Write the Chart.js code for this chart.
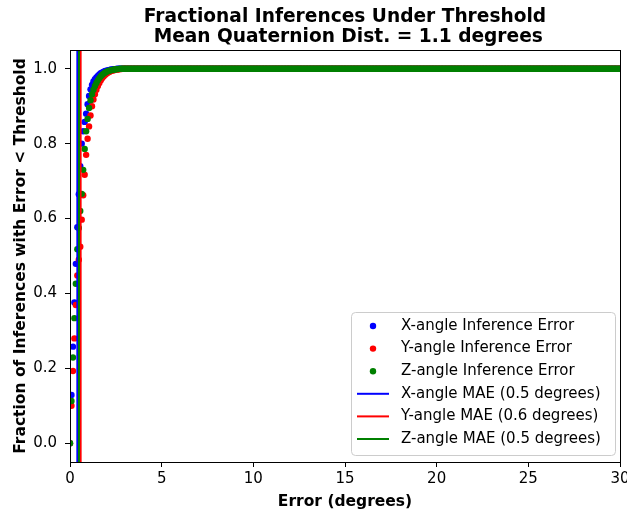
<!DOCTYPE html>
<html>
<head>
<meta charset="utf-8">
<script src="https://cdn.jsdelivr.net/npm/chart.js@4.4.0/dist/chart.umd.min.js"></script>
<style>
    html, body { margin: 0; padding: 0; background: #ffffff; }
</style>
</head>
<body>
<canvas id="cdf_chart" width="627" height="512"></canvas>
<script>
// Thresholds are spaced evenly from 0 to 30 degrees
var thresholdStep = 0.08;
var thresholdMax = 30;

var xAngleFraction = [0, 0.129, 0.258, 0.376, 0.479, 0.577, 0.665, 0.740, 0.800, 0.833,
    0.858, 0.880, 0.905, 0.927, 0.945, 0.957, 0.966, 0.972, 0.977, 0.981,
    0.985, 0.988, 0.990, 0.992, 0.994, 0.995, 0.996, 0.997, 0.998, 0.998,
    0.999, 0.999];
var yAngleFraction = [0, 0.100, 0.193, 0.280, 0.369, 0.448, 0.490, 0.525, 0.597, 0.662,
    0.717, 0.770, 0.813, 0.846, 0.875, 0.900, 0.918, 0.932, 0.944, 0.954,
    0.962, 0.969, 0.975, 0.980, 0.984, 0.987, 0.990, 0.992, 0.994, 0.995,
    0.996, 0.997, 0.998, 0.998, 0.999, 0.999];
var zAngleFraction = [0, 0.113, 0.229, 0.334, 0.426, 0.518, 0.575, 0.620, 0.666, 0.730,
    0.786, 0.833, 0.866, 0.895, 0.916, 0.932, 0.944, 0.954, 0.962, 0.969,
    0.975, 0.980, 0.984, 0.987, 0.990, 0.992, 0.994, 0.995, 0.996, 0.997,
    0.998, 0.998, 0.999, 0.999];

// Mean absolute error of each angle (where the vertical lines sit) and the text in the legend
var maeValues = [0.40, 0.58, 0.49];
var maeLabels = ["0.5", "0.6", "0.5"];

var xTicks = [0, 5, 10, 15, 20, 25, 30];
var yTicks = [0, 0.2, 0.4, 0.6, 0.8, 1.0];

var seriesNames = ["X-angle", "Y-angle", "Z-angle"];
var seriesColors = ["#0000ff", "#ff0000", "#008000"];
var seriesFractions = [xAngleFraction, yAngleFraction, zAngleFraction];

var titleLines = ["Fractional Inferences Under Threshold", " Mean Quaternion Dist. = 1.1 degrees"];
var xAxisTitle = "Error (degrees)";
var yAxisTitle = "Fraction of Inferences with Error < Threshold";

/**
 * Pairs each threshold with the fraction read for it
 */
function BuildPoints(fractions)
{
    var points = [];
    var count = Math.round(thresholdMax / thresholdStep);
    for (var i = 0; i <= count; i++)
    {
        var x = Math.round(i * thresholdStep * 1000) / 1000;
        points.push({x: x, y: i < fractions.length ? fractions[i] : 1.0});
    }
    return points;
}

var datasets = [];

// Dots first (drawn underneath), higher order = drawn earlier
seriesNames.forEach(function (name, k)
{
    datasets.push({
        type: 'scatter',
        label: `${name} Inference Error`,
        data: BuildPoints(seriesFractions[k]),
        backgroundColor: seriesColors[k],
        borderWidth: 0,
        pointRadius: 3.2,
        pointHoverRadius: 3.2,
        showLine: false,
        clip: 0,
        order: 10 - k
    });
});

// Vertical MAE lines on top
seriesNames.forEach(function (name, k)
{
    datasets.push({
        type: 'line',
        label: `${name} MAE (${maeLabels[k]} degrees)`,
        data: [{x: maeValues[k], y: -0.05}, {x: maeValues[k], y: 1.05}],
        borderColor: seriesColors[k],
        borderWidth: 2,
        pointRadius: 0,
        fill: false,
        clip: 0,
        order: 5 - k
    });
});

// Frame, titles and legend drawn by hand to sit where matplotlib put them
var decorations = {
    id: 'decorations',
    afterDraw: function (chart)
    {
        var ctx = chart.ctx;
        var area = chart.chartArea;
        var midX = (area.left + area.right) / 2;
        ctx.save();

        // Axes box
        ctx.strokeStyle = '#000000';
        ctx.lineWidth = 1;
        ctx.strokeRect(Math.round(area.left) + 0.5, Math.round(area.top) + 0.5,
            Math.round(area.right - area.left), Math.round(area.bottom - area.top));

        // Title
        ctx.fillStyle = '#000000';
        ctx.textAlign = 'center';
        ctx.textBaseline = 'alphabetic';
        ctx.font = 'bold 18.6px "DejaVu Sans"';
        ctx.fillText(titleLines[0], midX, 22);
        ctx.fillText(titleLines[1], midX, 42);

        // Axis titles
        ctx.font = 'bold 15.5px "DejaVu Sans"';
        ctx.fillText(xAxisTitle, midX, 506);
        ctx.save();
        ctx.translate(25, (area.top + area.bottom) / 2);
        ctx.rotate(-Math.PI / 2);
        ctx.fillText(yAxisTitle, 0, 0);
        ctx.restore();

        // Legend
        var bx = 351.5, by = 312.5, bw = 264, bh = 143, r = 4;
        ctx.beginPath();
        ctx.moveTo(bx + r, by);
        ctx.arcTo(bx + bw, by, bx + bw, by + bh, r);
        ctx.arcTo(bx + bw, by + bh, bx, by + bh, r);
        ctx.arcTo(bx, by + bh, bx, by, r);
        ctx.arcTo(bx, by, bx + bw, by, r);
        ctx.closePath();
        ctx.fillStyle = 'rgba(255,255,255,0.8)';
        ctx.fill();
        ctx.strokeStyle = '#cccccc';
        ctx.stroke();

        ctx.font = '15px "DejaVu Sans"';
        ctx.textAlign = 'left';
        ctx.textBaseline = 'middle';
        datasets.forEach(function (ds, k)
        {
            var rowY = 326 + k * 22.6;
            var color = seriesColors[k % 3];
            if (k < 3)
            {
                ctx.fillStyle = color;
                ctx.beginPath();
                ctx.arc(373, rowY, 3.2, 0, Math.PI * 2);
                ctx.fill();
            }
            else
            {
                ctx.strokeStyle = color;
                ctx.lineWidth = 2;
                ctx.beginPath();
                ctx.moveTo(357, rowY);
                ctx.lineTo(389, rowY);
                ctx.stroke();
            }
            ctx.fillStyle = '#000000';
            ctx.fillText(ds.label, 401, rowY);
        });

        ctx.restore();
    }
};

var tickFont = {family: 'DejaVu Sans', size: 15};

new Chart(document.getElementById('cdf_chart').getContext('2d'),
{
    type: 'scatter',
    data: {datasets: datasets},
    options: {
        responsive: false,
        animation: false,
        devicePixelRatio: 1,
        layout: {padding: {left: 0, right: 7, top: 50, bottom: 0}},
        plugins: {
            legend: {display: false},
            tooltip: {enabled: false},
            title: {display: false}
        },
        scales: {
            x: {
                type: 'linear',
                min: 0,
                max: thresholdMax,
                afterBuildTicks: function (scale) { scale.ticks = xTicks.map(function (v) { return {value: v}; }); },
                afterFit: function (scale)
                {
                    scale.height = 50;
                    scale.paddingLeft = 0;
                    scale.paddingRight = 0;
                },
                grid: {drawOnChartArea: false, drawTicks: true, tickLength: 5, color: '#000000'},
                border: {display: true, color: '#000000', width: 1},
                ticks: {font: tickFont, color: '#000000', padding: 3, maxRotation: 0,
                    callback: function (v) { return String(v); }}
            },
            y: {
                type: 'linear',
                min: -0.05,
                max: 1.05,
                afterBuildTicks: function (scale) { scale.ticks = yTicks.map(function (v) { return {value: v}; }); },
                afterFit: function (scale)
                {
                    scale.width = 70;
                    scale.paddingTop = 0;
                    scale.paddingBottom = 0;
                },
                grid: {drawOnChartArea: false, drawTicks: true, tickLength: 5, color: '#000000'},
                border: {display: true, color: '#000000', width: 1},
                ticks: {font: tickFont, color: '#000000', padding: 8,
                    callback: function (v) { return v.toFixed(1); }}
            }
        }
    },
    plugins: [decorations]
});
</script>
</body>
</html>
